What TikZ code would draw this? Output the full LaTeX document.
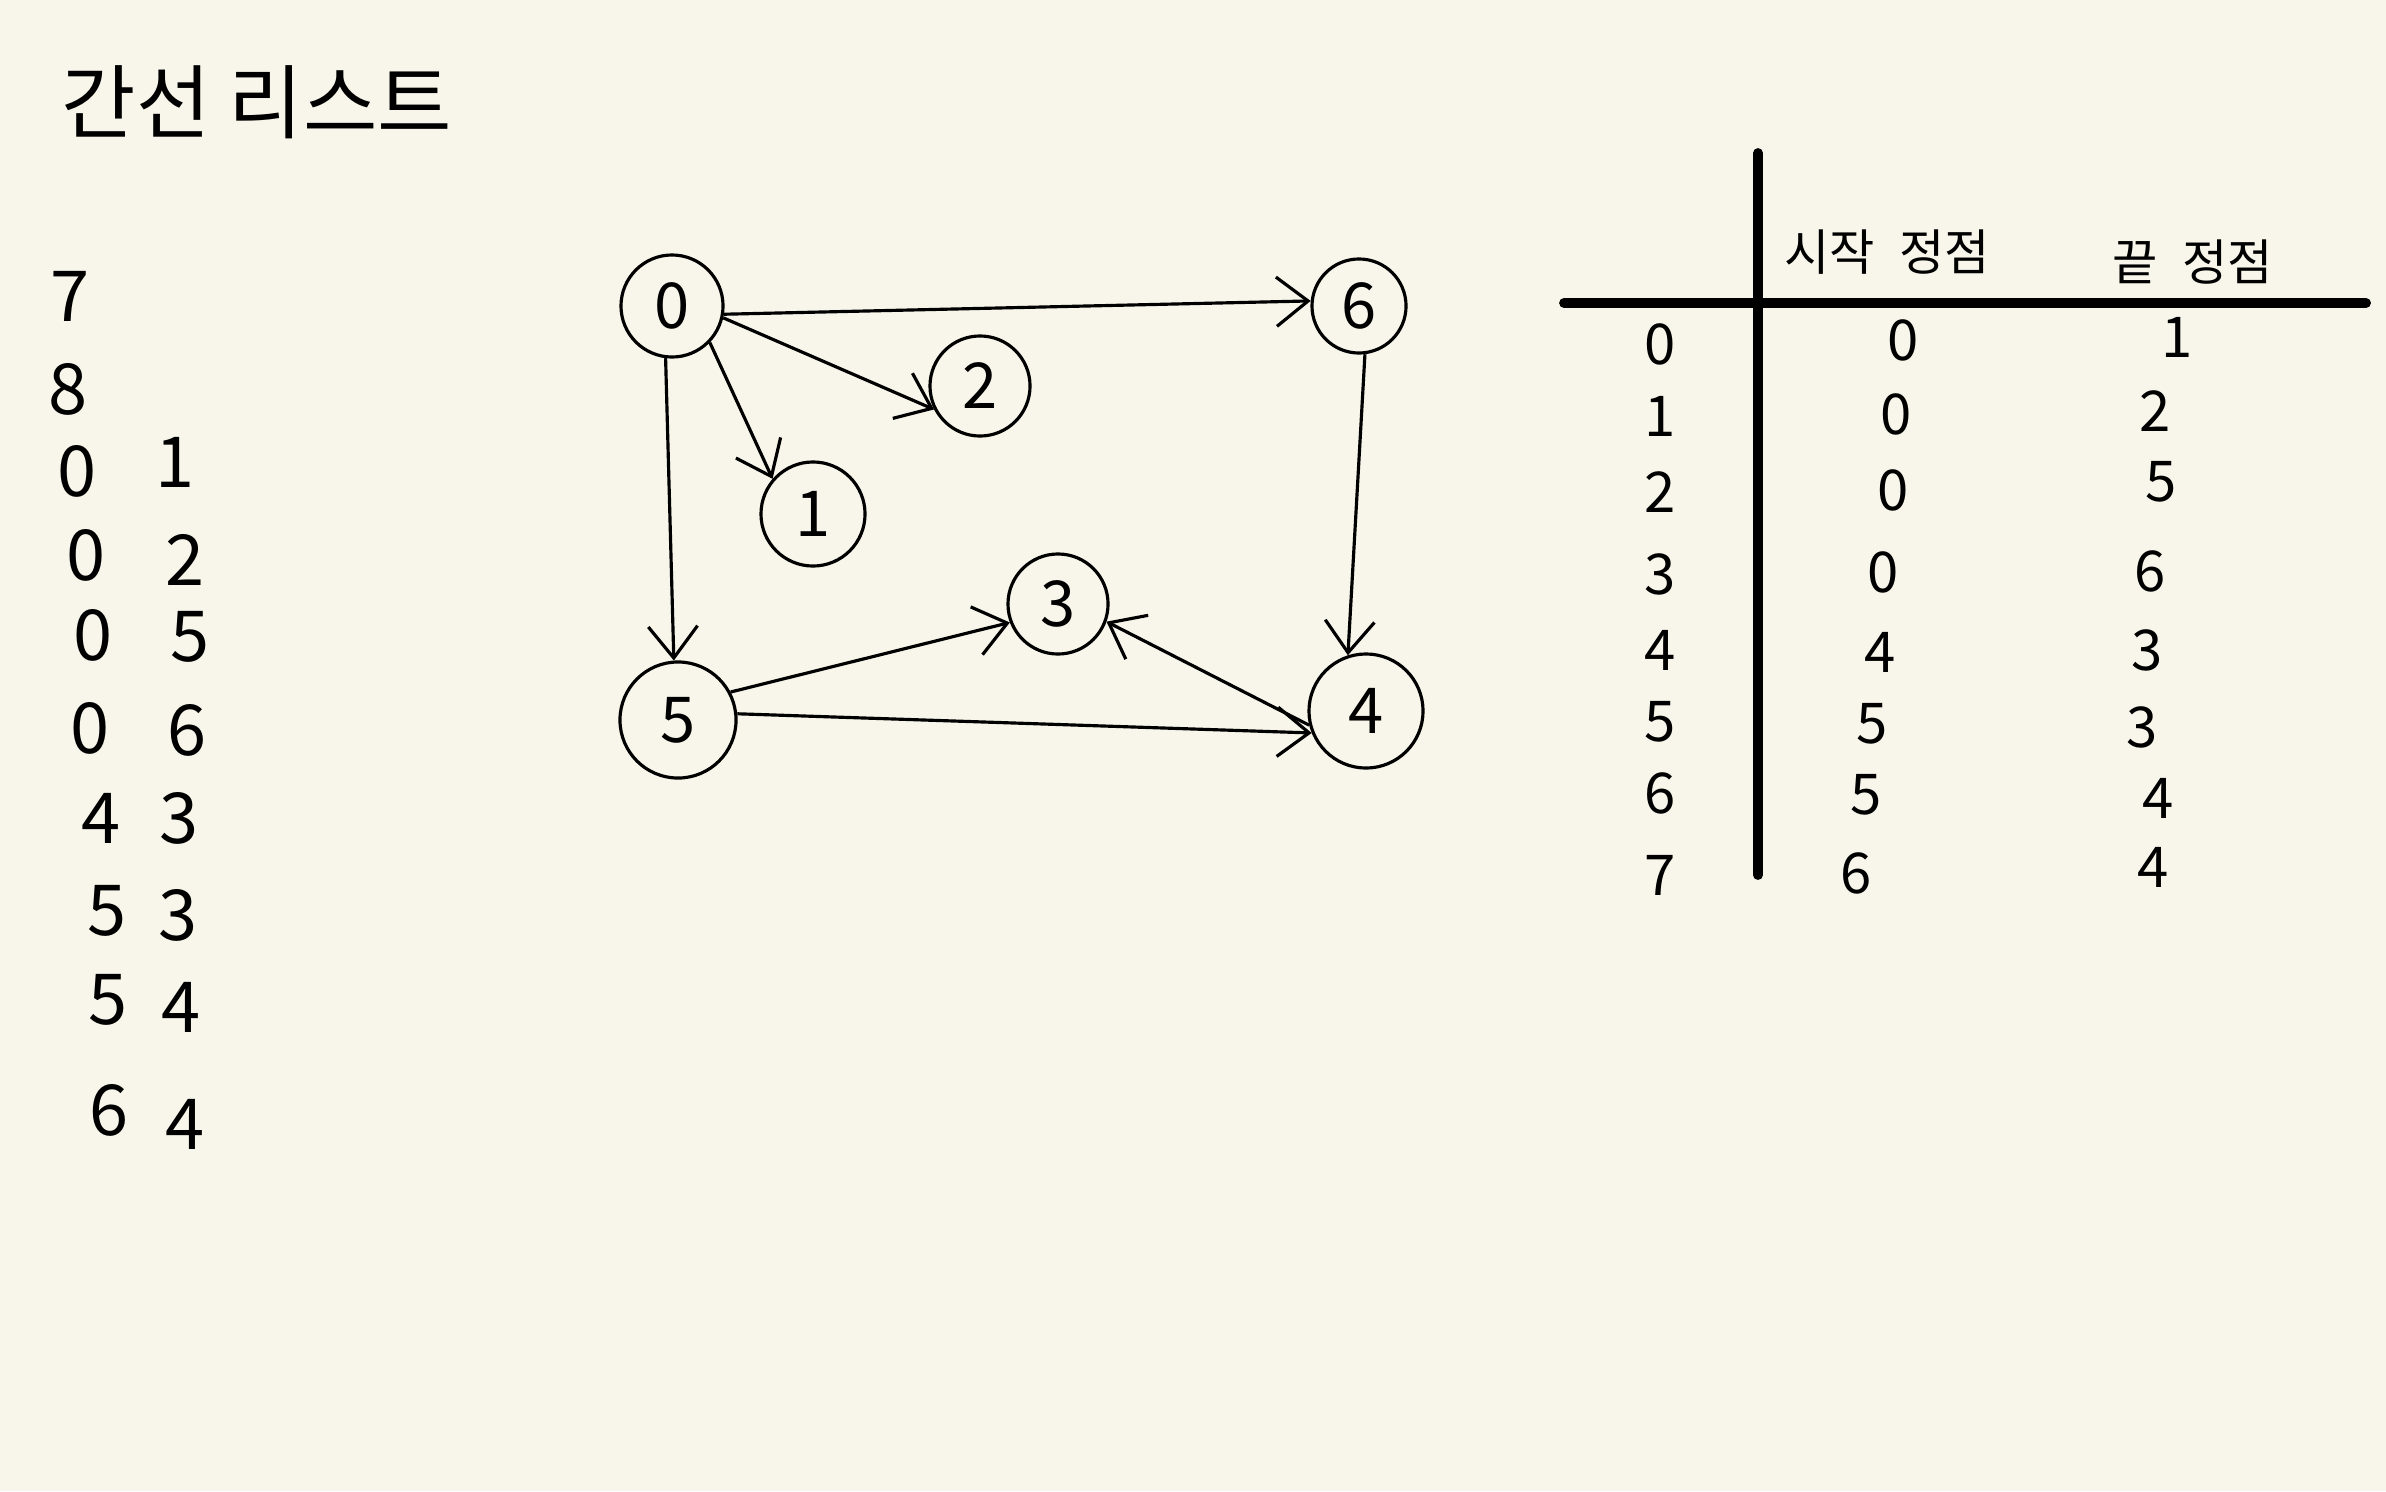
\documentclass[tikz,border=0pt]{standalone}
\usepackage{fontspec}
\setmainfont{Noto Sans CJK KR}
\usetikzlibrary{arrows.meta}
\definecolor{paper}{RGB}{248,246,234}
\begin{document}
\begin{tikzpicture}[x=0.01cm,y=-0.01cm,
  vertex/.style={circle,draw,line width=0.9pt,inner sep=0pt,font=\fontsize{18}{18}\selectfont},
  edge/.style={line width=0.9pt,-{Straight Barb[length=9pt,width=14pt]}},
  lbl/.style={inner sep=0pt,font=\fontsize{20}{20}\selectfont},
  tdig/.style={inner sep=0pt,font=\fontsize{16}{16}\selectfont},
  thead/.style={inner sep=0pt,font=\fontsize{14}{14}\selectfont},
  tablerule/.style={line width=2.8pt,line cap=round}]
\fill[paper] (0,0) rectangle (2386,1491);
\useasboundingbox (0,0) rectangle (2386,1491);

% title
\node[inner sep=0pt,font=\fontsize{23}{23}\selectfont] (title) at (257,102) {간선 리스트};

% left list
\node[lbl] (l7) at (70,296) {7};
\node[lbl] (l8) at (68,389) {8};
\node[lbl] (a0) at (77,471) {0};  \node[lbl] (b0) at (175,462) {1};
\node[lbl] (a1) at (86,555) {0};  \node[lbl] (b1) at (185,560) {2};
\node[lbl] (a2) at (93,635) {0};  \node[lbl] (b2) at (190,637) {5};
\node[lbl] (a3) at (90,728) {0};  \node[lbl] (b3) at (187,730) {6};
\node[lbl] (a4) at (101,818) {4}; \node[lbl] (b4) at (179,818) {3};
\node[lbl] (a5) at (107,911) {5}; \node[lbl] (b5) at (178,915) {3};
\node[lbl] (a6) at (108,1000) {5};\node[lbl] (b6) at (181,1007) {4};
\node[lbl] (a7) at (109,1110) {6};\node[lbl] (b7) at (185,1124) {4};

% graph
\node[vertex,minimum size=1.02cm] (n0) at (672,306) {0};
\node[vertex,minimum size=0.94cm] (n6) at (1359,306) {6};
\node[vertex,minimum size=1.00cm] (n2) at (980,386) {2};
\node[vertex,minimum size=1.04cm] (n1) at (813,514) {1};
\node[vertex,minimum size=1.00cm] (n3) at (1058,604) {3};
\node[vertex,minimum size=1.16cm] (n5) at (678,720) {5};
\node[vertex,minimum size=1.14cm] (n4) at (1366,711) {4};

\draw[edge] (n0.351) -- (n6.174);
\draw[edge] (n0.347) -- (n2.207);
\draw[edge] (n0.316) -- (n1.139);
\draw[edge] (n0.263) -- (n5.94);
\draw[edge] (n6.277) -- (n4.108);
\draw[edge] (n5.28) -- (n3.201);
\draw[edge] (n5.6) -- (n4.202);
\draw[edge] (n4.194) -- (n3.340);

% table
\coordinate (vt) at (1758,153);
\coordinate (vb) at (1758,875);
\coordinate (hl) at (1564,303);
\coordinate (hr) at (2366,303);
\draw[tablerule] (vt) -- (vb);
\draw[tablerule] (hl) -- (hr);

\node[thead] (hs) at (1887,252) {시작\hspace{0.5em}정점};
\node[thead] (he) at (2193,262) {끝\hspace{0.5em}정점};

\node[tdig] (i0) at (1660,344) {0}; \node[tdig] (s0) at (1903,340) {0}; \node[tdig] (e0) at (2177,337) {1};
\node[tdig] (i1) at (1660,416) {1}; \node[tdig] (s1) at (1896,414) {0}; \node[tdig] (e1) at (2155,411) {2};
\node[tdig] (i2) at (1660,492) {2}; \node[tdig] (s2) at (1893,490) {0}; \node[tdig] (e2) at (2161,482) {5};
\node[tdig] (i3) at (1660,574) {3}; \node[tdig] (s3) at (1883,572) {0}; \node[tdig] (e3) at (2150,571) {6};
\node[tdig] (i4) at (1660,650) {4}; \node[tdig] (s4) at (1880,652) {4}; \node[tdig] (e4) at (2147,650) {3};
\node[tdig] (i5) at (1660,722) {5}; \node[tdig] (s5) at (1872,724) {5}; \node[tdig] (e5) at (2142,727) {3};
\node[tdig] (i6) at (1660,793) {6}; \node[tdig] (s6) at (1866,795) {5}; \node[tdig] (e6) at (2158,798) {4};
\node[tdig] (i7) at (1660,875) {7}; \node[tdig] (s7) at (1856,873) {6}; \node[tdig] (e7) at (2153,867) {4};
\end{tikzpicture}
\end{document}
